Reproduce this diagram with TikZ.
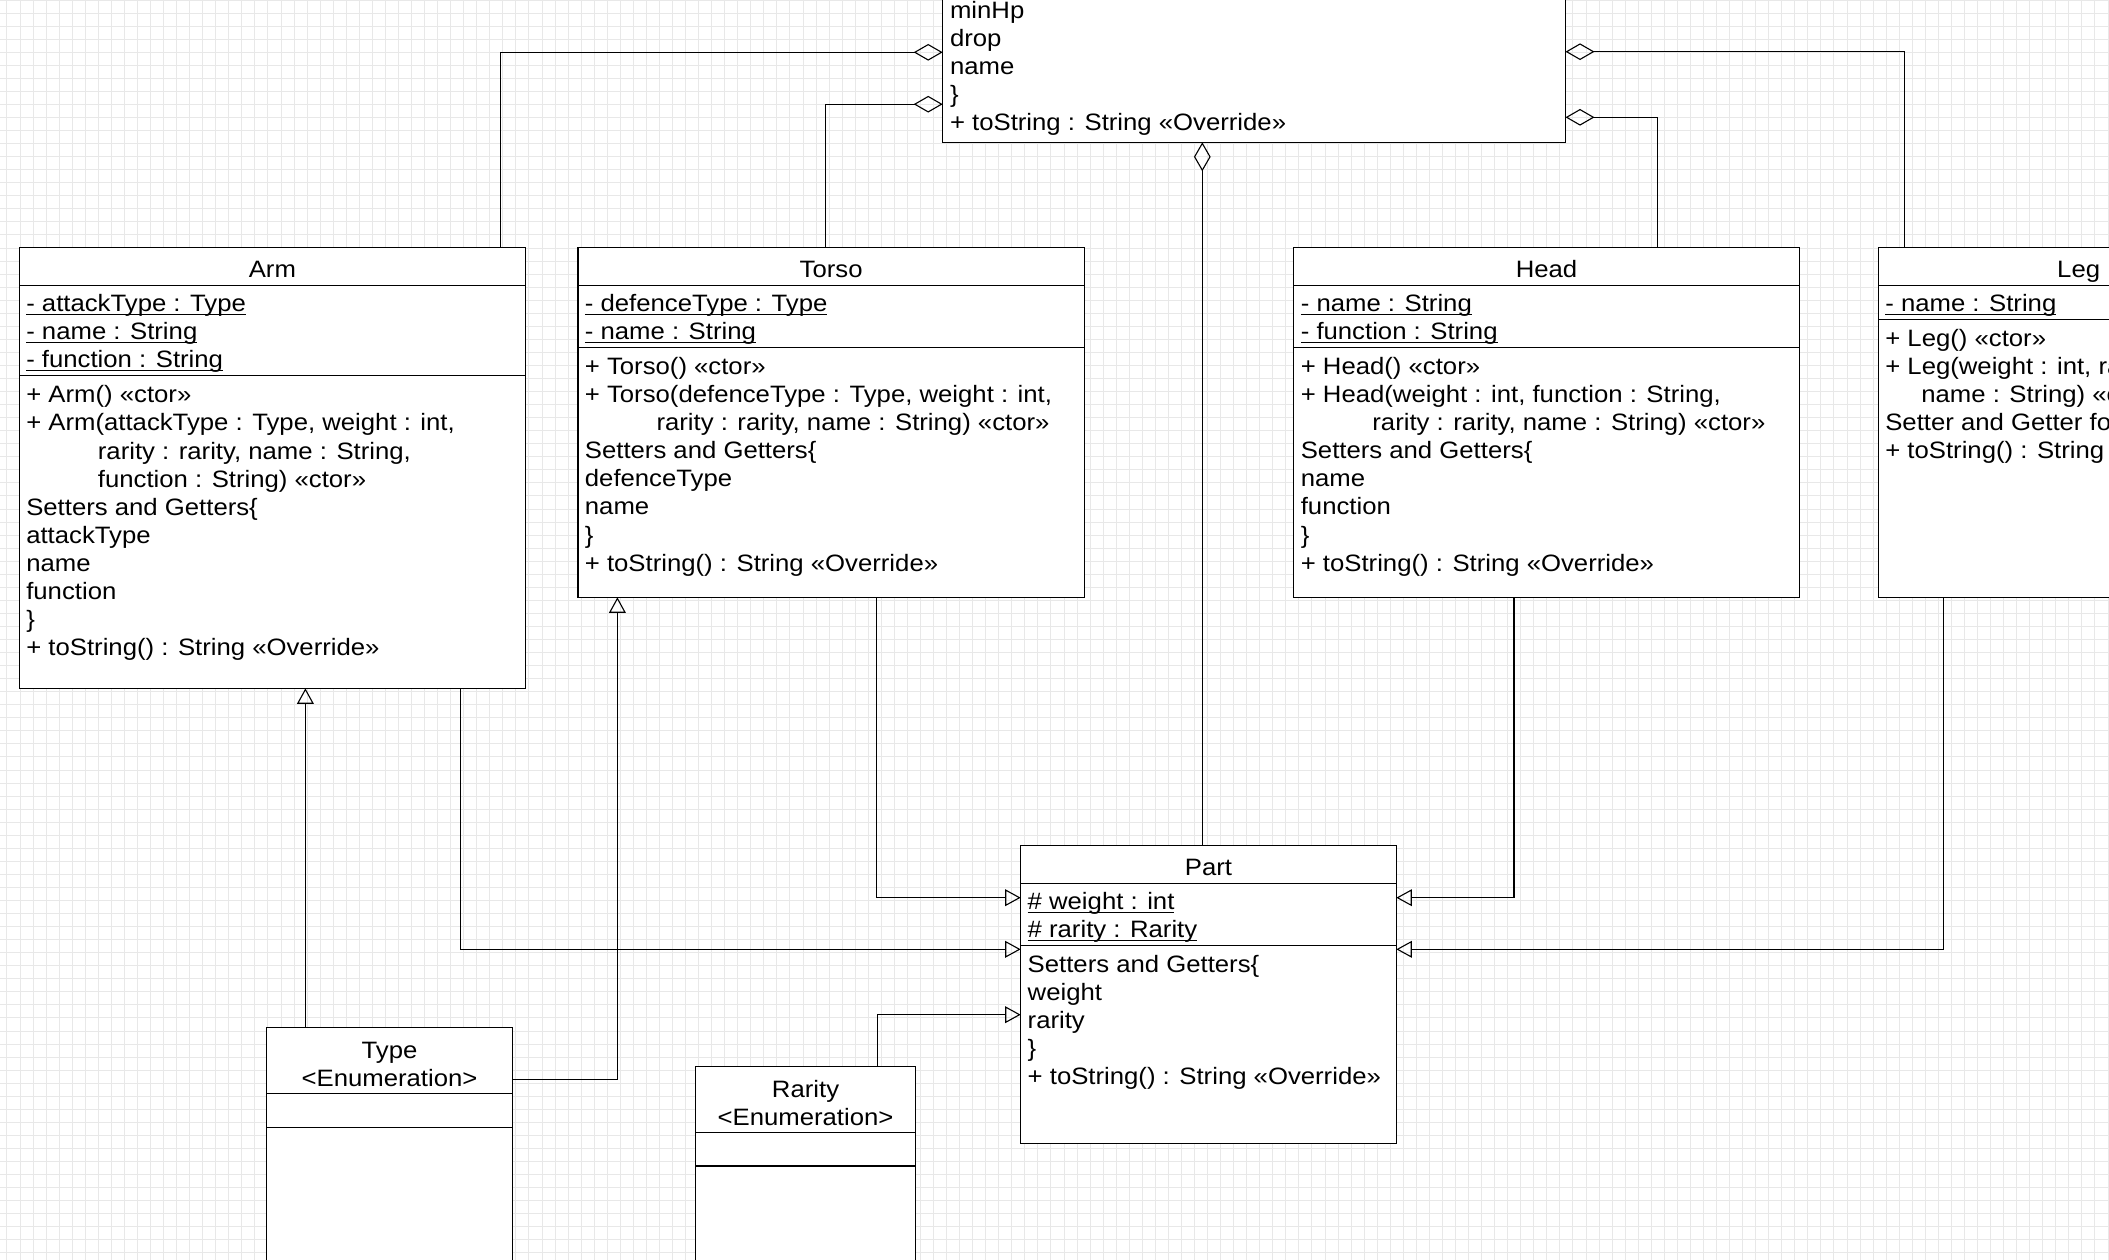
\documentclass[tikz,border=0pt]{standalone}
\usepackage{fontspec}
\setmainfont{Liberation Sans}[FakeStretch=1.085]
\usetikzlibrary{arrows.meta}

% static members are underlined just under the baseline
\newcommand\ulattr[1]{\setbox0\hbox{#1}\rlap{\rule[-3.6pt]{\wd0}{1.3pt}}\box0}
% height of the first line of a compartment, measured from its top rule
\newcommand\firstline{\rule{0pt}{26.4pt}}
\newcommand\opsline{\rule{0pt}{27.4pt}}
\newcommand\contind{\hspace*{71.6pt}}
\newcommand\shortind{\hspace*{36pt}}

\begin{document}
\begin{tikzpicture}[x=1pt,y=-1pt,
  font=\fontsize{23.7}{28.05}\selectfont,
  every node/.style={outer sep=0pt},
  classbox/.style={draw, line width=1.3pt, fill=white, rectangle, inner sep=0pt, anchor=north west},
  sepline/.style={line width=1.3pt},
  txt/.style={anchor=north west, inner sep=0pt, align=left},
  titletxt/.style={anchor=base, inner sep=0pt},
  enumtxt/.style={anchor=north, inner sep=0pt, align=center},
  gridline/.style={line width=0.9pt, black!9},
  conn/.style={line width=1.3pt},
  aggr/.style={conn, -{Diamond[open, length=29pt, width=16.7pt, line width=1.1pt]}},
  gen/.style={conn, -{Triangle[open, length=15.5pt, width=16.7pt, line width=1.1pt]}}
]
\useasboundingbox (0,0) rectangle (2109,1260);
\clip (0,0) rectangle (2109,1260);
\fill[white] (0,0) rectangle (2109,1260);

% background grid
\foreach \i in {0,...,161} { \draw[gridline] ({6.9+13.05*\i},0) -- ({6.9+13.05*\i},1260); }
\foreach \j in {0,...,97} { \draw[gridline] (0,{13.05*\j}) -- (2109,{13.05*\j}); }

% ---------- aggregate class (top) ----------
\node[classbox, minimum width=622.8pt, minimum height=442.3pt] (whole) at (942.7,-300) {};
\node[txt] (wholeOps) at (950,-7.6) {\firstline minHp\\drop\\name\\\}\\+ toString : String «Override»};

% ---------- Arm ----------
\node[classbox, minimum width=506.2pt, minimum height=441pt] (arm) at (19.3,247.3) {};
\draw[sepline] (19.3,285.3) -- (525.5,285.3);
\draw[sepline] (19.3,375.5) -- (525.5,375.5);
\node[titletxt] (armName) at ([yshift=-29.8pt]arm.north) {Arm};
\node[txt] (armAttr) at (26.3,285.3) {\firstline\ulattr{- attackType : Type}\\\ulattr{- name : String}\\\ulattr{- function : String}};
\node[txt] (armOps) at (26.3,375.5) {\opsline + Arm() «ctor»\\+ Arm(attackType : Type, weight : int,\\\contind rarity : rarity, name : String,\\\contind function : String) «ctor»\\Setters and Getters\{\\attackType\\name\\function\\\}\\+ toString() : String «Override»};

% ---------- Torso ----------
\node[classbox, minimum width=506.5pt, minimum height=350pt] (torso) at (577.9,247.3) {};
\draw[sepline] (577.9,285.3) -- (1084.4,285.3);
\draw[sepline] (577.9,347.3) -- (1084.4,347.3);
\node[titletxt] (torsoName) at ([yshift=-29.8pt]torso.north) {Torso};
\node[txt] (torsoAttr) at (584.9,285.3) {\firstline\ulattr{- defenceType : Type}\\\ulattr{- name : String}};
\node[txt] (torsoOps) at (584.9,347.3) {\opsline + Torso() «ctor»\\+ Torso(defenceType : Type, weight : int,\\\contind rarity : rarity, name : String) «ctor»\\Setters and Getters\{\\defenceType\\name\\\}\\+ toString() : String «Override»};

% ---------- Head ----------
\node[classbox, minimum width=505.5pt, minimum height=350pt] (head) at (1293.8,247.3) {};
\draw[sepline] (1293.8,285.3) -- (1799.3,285.3);
\draw[sepline] (1293.8,347.3) -- (1799.3,347.3);
\node[titletxt] (headName) at ([yshift=-29.8pt]head.north) {Head};
\node[txt] (headAttr) at (1300.8,285.3) {\firstline\ulattr{- name : String}\\\ulattr{- function : String}};
\node[txt] (headOps) at (1300.8,347.3) {\opsline + Head() «ctor»\\+ Head(weight : int, function : String,\\\contind rarity : rarity, name : String) «ctor»\\Setters and Getters\{\\name\\function\\\}\\+ toString() : String «Override»};

% ---------- Leg ----------
\node[classbox, minimum width=400.7pt, minimum height=350pt] (leg) at (1878.3,247.3) {};
\draw[sepline] (1878.3,285.3) -- (2279,285.3);
\draw[sepline] (1878.3,319.3) -- (2279,319.3);
\node[titletxt] (legName) at ([yshift=-29.8pt]leg.north) {Leg};
\node[txt] (legAttr) at (1885.3,285.3) {\firstline\ulattr{- name : String}};
\node[txt] (legOps) at (1885.3,319.3) {\opsline + Leg() «ctor»\\+ Leg(weight : int, rarity : rarity,\\\shortind name : String) «ctor»\\Setter and Getter for name\\+ toString() : String «Override»};

% ---------- Part ----------
\node[classbox, minimum width=375.6pt, minimum height=298pt] (part) at (1020.7,845.3) {};
\draw[sepline] (1020.7,883.3) -- (1396.3,883.3);
\draw[sepline] (1020.7,945.3) -- (1396.3,945.3);
\node[titletxt] (partName) at ([yshift=-29.8pt]part.north) {Part};
\node[txt] (partAttr) at (1027.7,883.3) {\firstline\ulattr{\# weight : int}\\\ulattr{\# rarity : Rarity}};
\node[txt] (partOps) at (1027.7,945.3) {\opsline Setters and Getters\{\\weight\\rarity\\\}\\+ toString() : String «Override»};

% ---------- Type enumeration ----------
\node[classbox, minimum width=246pt, minimum height=300pt] (type) at (266.5,1027.3) {};
\draw[sepline] (266.5,1093.3) -- (512.5,1093.3);
\draw[sepline] (266.5,1127.3) -- (512.5,1127.3);
\node[enumtxt] (typeName) at (type.north) {\rule{0pt}{31pt}Type\\<Enumeration>};

% ---------- Rarity enumeration ----------
\node[classbox, minimum width=220.1pt, minimum height=300pt] (rarity) at (695.5,1066.3) {};
\draw[sepline] (695.5,1132.3) -- (915.6,1132.3);
\draw[sepline] (695.5,1166) -- (915.6,1166);
\node[enumtxt] (rarityName) at (rarity.north) {\rule{0pt}{31pt}Rarity\\<Enumeration>};

% ---------- attachment points ----------
\coordinate (wholeL1) at ([yshift=90pt]whole.south west);
\coordinate (wholeL2) at ([yshift=38.1pt]whole.south west);
\coordinate (wholeR1) at ([yshift=90.6pt]whole.south east);
\coordinate (wholeR2) at ([yshift=25pt]whole.south east);
\coordinate (armTop) at ([xshift=480.9pt]arm.north west);
\coordinate (armBot) at ([xshift=441.4pt]arm.south west);
\coordinate (torsoTop) at ([xshift=247.3pt]torso.north west);
\coordinate (torsoBot) at ([xshift=298.9pt]torso.south west);
\coordinate (torsoIn) at ([xshift=39.5pt]torso.south west);
\coordinate (headTop) at ([xshift=363.6pt]head.north west);
\coordinate (headBot) at ([xshift=220.2pt]head.south west);
\coordinate (legTop) at ([xshift=26pt]leg.north west);
\coordinate (legBot) at ([xshift=65pt]leg.south west);
\coordinate (partTop) at ([xshift=-6.2pt]part.north);
\coordinate (partL1) at ([yshift=-52.4pt]part.north west);
\coordinate (partL2) at ([yshift=-104pt]part.north west);
\coordinate (partL3) at ([yshift=-169.4pt]part.north west);
\coordinate (partR1) at ([yshift=-52.4pt]part.north east);
\coordinate (partR2) at ([yshift=-104pt]part.north east);
\coordinate (typeTop) at ([xshift=38.9pt]type.north west);
\coordinate (typeRight) at ([yshift=-52pt]type.north east);
\coordinate (rarityTop) at ([xshift=181.7pt]rarity.north west);

% ---------- aggregations ----------
\draw[aggr] (armTop) |- (wholeL1);
\draw[aggr] (torsoTop) |- (wholeL2);
\draw[aggr] (headTop) |- (wholeR2);
\draw[aggr] (legTop) |- (wholeR1);
\draw[aggr] (partTop) -- (partTop |- whole.south);

% ---------- generalizations ----------
\draw[gen] (torsoBot) |- (partL1);
\draw[gen] (armBot) |- (partL2);
\draw[gen] (headBot) |- (partR1);
\draw[gen] (legBot) |- (partR2);
\draw[gen] (rarityTop) |- (partL3);
\draw[gen] (typeTop) -- (typeTop |- arm.south);
\draw[gen] (typeRight) -| (torsoIn);
\end{tikzpicture}
\end{document}
